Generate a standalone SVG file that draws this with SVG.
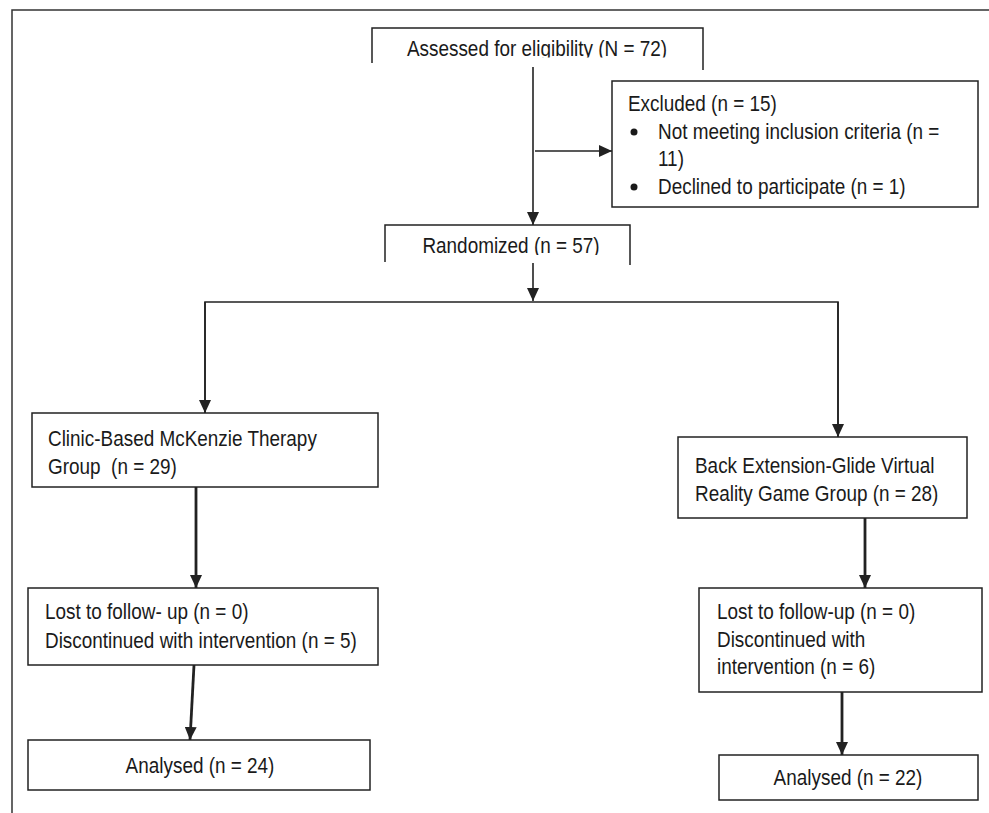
<svg xmlns="http://www.w3.org/2000/svg" width="989" height="813" viewBox="0 0 989 813">
<style>
.box{fill:#fff;stroke:#222;stroke-width:1.5}
.open{fill:none;stroke:#222;stroke-width:1.5}
.t{font-family:"Liberation Sans",Arial,sans-serif;font-size:21.5px;fill:#1a1a1a}
.c{text-anchor:middle}
.ln{fill:none;stroke:#222;stroke-width:1.6}
.thk{fill:none;stroke:#222;stroke-width:2.8}
.frame{fill:none;stroke:#333;stroke-width:1.5}
</style>
<defs>
<marker id="ah" markerUnits="userSpaceOnUse" markerWidth="13" markerHeight="12" refX="13" refY="6" orient="auto">
<path d="M0,0 L13,6 L0,12 z" fill="#222"/>
</marker>
<clipPath id="clipA"><rect x="372" y="28" width="331" height="29.5"/></clipPath>
<clipPath id="clipR"><rect x="385" y="225" width="245" height="30"/></clipPath>
</defs>
<rect x="0" y="0" width="989" height="813" fill="#fff"/>
<path class="frame" d="M12,813 V10 H989"/>
<g id="connectors">
<line class="ln" x1="533" y1="67" x2="533" y2="225" marker-end="url(#ah)"/>
<line class="ln" x1="535" y1="151" x2="612" y2="151" marker-end="url(#ah)"/>
<line class="ln" x1="533" y1="263" x2="533" y2="301" marker-end="url(#ah)"/>
<polyline class="ln" points="205,413 205,302 838,302 838,437"/>
<line class="ln" x1="205" y1="302" x2="205" y2="413" marker-end="url(#ah)"/>
<line class="ln" x1="838" y1="302" x2="838" y2="437" marker-end="url(#ah)"/>
<line class="thk" x1="196" y1="487" x2="196" y2="588" marker-end="url(#ah)"/>
<line class="thk" x1="194" y1="665" x2="190" y2="740" marker-end="url(#ah)"/>
<line class="thk" x1="865" y1="518" x2="865" y2="588" marker-end="url(#ah)"/>
<line class="thk" x1="842" y1="692" x2="842" y2="755" marker-end="url(#ah)"/>
</g>
<g id="assessed">
<path class="open" d="M372,63 V28 H703 V70"/>
<g clip-path="url(#clipA)">
<text class="t c" transform="translate(537,56) scale(0.88,1)">Assessed for eligibility (N = 72)</text>
</g>
</g>
<g id="excluded">
<rect class="box" x="612" y="81" width="366" height="126"/>
<text class="t" transform="translate(628,111) scale(0.88,1)">Excluded (n = 15)</text>
<circle cx="634" cy="132" r="3.5" fill="#1a1a1a"/>
<text class="t" transform="translate(658,139) scale(0.88,1)">Not meeting inclusion criteria (n =</text>
<text class="t" transform="translate(658,166) scale(0.88,1)">11)</text>
<circle cx="634" cy="187" r="3.5" fill="#1a1a1a"/>
<text class="t" transform="translate(658,194) scale(0.88,1)">Declined to participate (n = 1)</text>
</g>
<g id="randomized">
<path class="open" d="M385,262 V225 H630 V265"/>
<g clip-path="url(#clipR)">
<text class="t c" transform="translate(511,253) scale(0.88,1)">Randomized (n = 57)</text>
</g>
</g>
<g id="clinic">
<rect class="box" x="32" y="413" width="346" height="74"/>
<text class="t" transform="translate(48,446) scale(0.88,1)">Clinic-Based McKenzie Therapy</text>
<text class="t" transform="translate(48,474) scale(0.88,1)" xml:space="preserve">Group  (n = 29)</text>
</g>
<g id="vr">
<rect class="box" x="678" y="437" width="289" height="81"/>
<text class="t" transform="translate(695,473) scale(0.88,1)">Back Extension-Glide Virtual</text>
<text class="t" transform="translate(695,501) scale(0.88,1)">Reality Game Group (n = 28)</text>
</g>
<g id="lost-left">
<rect class="box" x="28" y="588" width="350" height="77"/>
<text class="t" transform="translate(45,619) scale(0.88,1)">Lost to follow- up (n = 0)</text>
<text class="t" transform="translate(45,648) scale(0.88,1)">Discontinued with intervention (n = 5)</text>
</g>
<g id="lost-right">
<rect class="box" x="699" y="588" width="283" height="104"/>
<text class="t" transform="translate(717,619) scale(0.88,1)">Lost to follow-up (n = 0)</text>
<text class="t" transform="translate(717,647) scale(0.88,1)">Discontinued with</text>
<text class="t" transform="translate(717,674) scale(0.88,1)">intervention (n = 6)</text>
</g>
<g id="analysed-left">
<rect class="box" x="28" y="740" width="342" height="50"/>
<text class="t c" transform="translate(200,773) scale(0.88,1)">Analysed (n = 24)</text>
</g>
<g id="analysed-right">
<rect class="box" x="719" y="755" width="259" height="45"/>
<text class="t c" transform="translate(848,785) scale(0.88,1)">Analysed (n = 22)</text>
</g>
</svg>
